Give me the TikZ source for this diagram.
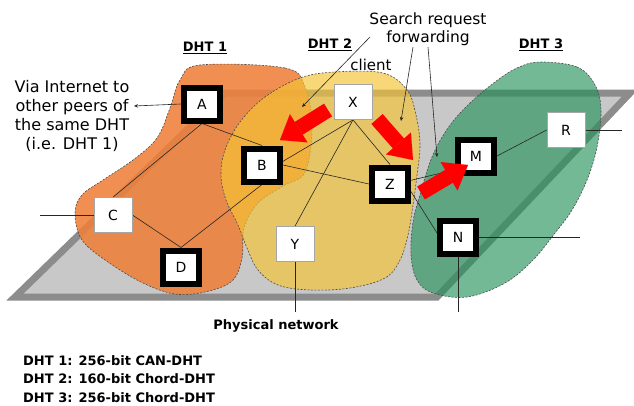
\documentclass[tikz,border=0pt]{standalone}
\usepackage{fontspec}
\setmainfont{DejaVu Sans}
\usetikzlibrary{arrows.meta}
\definecolor{planefill}{RGB}{200,200,200}
\definecolor{planeedge}{RGB}{140,140,140}
\definecolor{dhtorange}{RGB}{238,128,58}
\definecolor{dhtyellow}{RGB}{245,196,54}
\definecolor{dhtgreen}{RGB}{36,146,91}
\begin{document}
\begin{tikzpicture}[x=1pt,y=-1pt,
  peerthin/.style={draw=gray!70, line width=0.8pt, fill=white, minimum width=38pt, minimum height=35pt, inner sep=0pt, font=\fontsize{14}{16}\selectfont},
  peerthick/.style={draw=black, line width=6pt, fill=white, minimum width=36pt, minimum height=33pt, inner sep=0pt, font=\fontsize{14}{16}\selectfont},
  link/.style={draw=black!85, line width=0.6pt},
  pointer/.style={draw=black!85, line width=0.6pt, -{Stealth[length=4pt,width=3.5pt]}},
  regionline/.style={draw=black!70, line width=0.6pt, dash pattern=on 2pt off 1.5pt},
  fatarrow/.style={line width=15pt, draw=red, -{Triangle[length=22pt,width=33pt,line width=0.01pt]}},
  lbl/.style={font=\fontsize{15}{19}\selectfont, align=center, inner sep=0pt},
  dhtlbl/.style={font=\bfseries\fontsize{13}{15}\selectfont, inner sep=0pt}
]
\useasboundingbox (0,0) rectangle (634,405);
\fill[white] (0,0) rectangle (634,405);

% physical network plane
\draw[fill=planefill, draw=planeedge, line width=7pt, line join=miter]
  (225,93) -- (630,93) -- (437,297) -- (15,297) -- cycle;

% DHT regions
\path[fill=dhtorange, fill opacity=0.88, regionline] plot[smooth cycle, tension=0.6] coordinates {
  (200,65) (285,68) (305,87) (312,127) (305,172) (283,186) (258,203) (244,228)
  (242,258) (232,281) (205,292) (175,294) (143,283) (108,262) (82,240) (75,213)
  (82,195) (103,180) (133,160) (157,138) (170,108) (180,80)};
\path[fill=dhtyellow, fill opacity=0.67, regionline] plot[smooth cycle, tension=0.6] coordinates {
  (300,78) (335,72) (383,73) (407,90) (416,115) (420,145) (417,175) (413,205)
  (408,235) (400,260) (385,278) (350,288) (310,290) (278,285) (258,270) (247,248)
  (238,225) (226,200) (221,175) (225,150) (240,122) (265,97)};
\path[fill=dhtgreen, fill opacity=0.64, regionline] plot[smooth cycle, tension=0.6] coordinates {
  (540,62) (577,67) (595,85) (601,110) (597,147) (587,180) (572,210) (555,233)
  (533,260) (505,283) (467,297) (433,293) (417,280) (411,255) (413,222) (420,195)
  (432,157) (448,128) (468,105) (495,82) (517,68)};

% peers
\node[peerthick] (A) at (202,104) {A};
\node[peerthick] (B) at (262,165) {B};
\node[peerthin]  (C) at (113,215) {C};
\node[peerthick] (D) at (181,267) {D};
\node[peerthin]  (X) at (353,102) {X};
\node[peerthin]  (Y) at (295,244) {Y};
\node[peerthick] (Z) at (390,184) {Z};
\node[peerthick] (M) at (476,156) {M};
\node[peerthick] (N) at (458,237) {N};
\node[peerthin]  (R) at (566,130) {R};

% free ends
\coordinate (cfree) at (40,215);
\coordinate (rfree) at (622,130);
\coordinate (nfree) at (580,237);
\coordinate (nfree2) at (458,312);
\coordinate (yfree) at (295,312);
\coordinate (viatip) at (134,106);
\coordinate (clienttop) at (370,37);
\coordinate (clienttip) at (302,107);
\coordinate (s1) at (413,47);
\coordinate (s1t) at (401,121);
\coordinate (s2) at (428,47);
\coordinate (s2t) at (437,157);

% links
\draw[link] (A.south) -- (B.north);
\draw[link] (A.south) -- (C.north);
\draw[link] (C.east) -- (D.north);
\draw[link] (D.north) -- (B.south);
\draw[link] (C.west) -- (cfree);
\draw[link] (X.south) -- (B.10);
\draw[link] (X.south) -- (Y.north);
\draw[link] (X.south) -- (Z.north);
\draw[link] (B.east) -- (Z.west);
\draw[link] (Z.10) -- (M.-10);
\draw[link] (Z.-20) -- (N.169);
\draw[link] (M.east) -- (R.west);
\draw[link] (R.east) -- (rfree);
\draw[link] (N.east) -- (nfree);
\draw[link] (N.south) -- (nfree2);
\draw[link] (Y.south) -- (yfree);

% redraw nodes over links
\node[peerthick] at (A) {A};
\node[peerthick] at (B) {B};
\node[peerthin]  at (C) {C};
\node[peerthick] at (D) {D};
\node[peerthin]  at (X) {X};
\node[peerthin]  at (Y) {Y};
\node[peerthick] at (Z) {Z};
\node[peerthick] at (M) {M};
\node[peerthick] at (N) {N};
\node[peerthin]  at (R) {R};

% red forwarding arrows
\coordinate (r1t) at (328,110); \coordinate (r1h) at (280,140);
\coordinate (r2t) at (377,119); \coordinate (r2h) at (413,160);
\coordinate (r3t) at (421,193); \coordinate (r3h) at (468,165);
\draw[fatarrow] (r1t) -- (r1h);
\draw[fatarrow] (r2t) -- (r2h);
\draw[fatarrow] (r3t) -- (r3h);

% labels
\node[lbl, font=\fontsize{16}{19}\selectfont] (via) at (72,116) {Via Internet to\\other peers of\\the same DHT\\(i.e. DHT 1)};
\draw[pointer] (A.west) -- (viatip);
\node[dhtlbl] (d1) at (205,48) {\underline{DHT 1}};
\node[dhtlbl] (d2) at (330,45) {\underline{DHT 2}};
\node[dhtlbl] (d3) at (541,45) {\underline{DHT 3}};
\node[lbl] (client) at (371,65) {client};
\draw[pointer] (clienttop) -- (clienttip);
\node[lbl, font=\fontsize{15.5}{18}\selectfont] (search) at (428,29) {Search request\\forwarding};
\draw[pointer] (s1) -- (s1t);
\draw[pointer] (s2) -- (s2t);
\node[dhtlbl] (phys) at (276,326) {Physical network};
\node[font=\bfseries\fontsize{13}{18.5}\selectfont, align=left, anchor=west, inner sep=0pt] (legend) at (23,379)
  {DHT 1: 256-bit CAN-DHT\\DHT 2: 160-bit Chord-DHT\\DHT 3: 256-bit Chord-DHT};
\end{tikzpicture}
\end{document}
